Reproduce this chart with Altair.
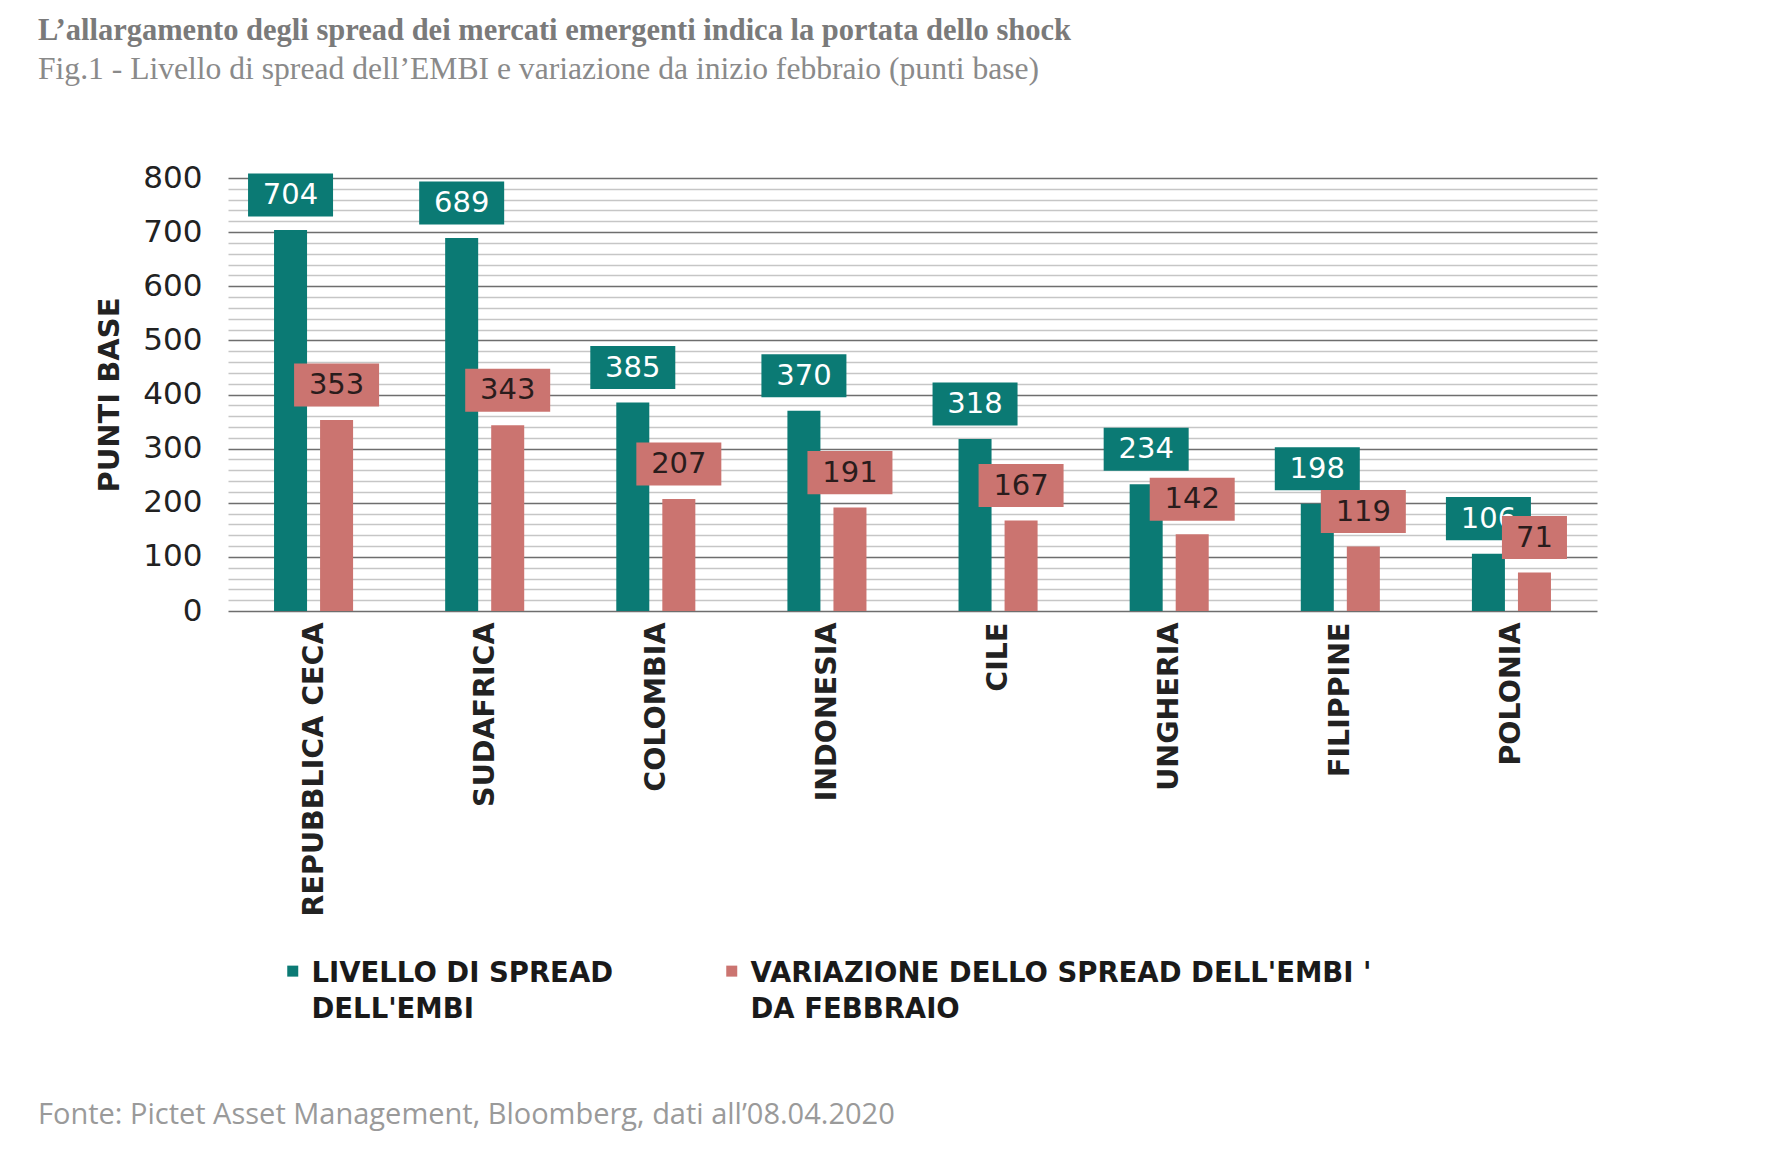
import altair as alt
import pandas as pd

countries = ["REPUBBLICA CECA", "SUDAFRICA", "COLOMBIA", "INDONESIA",
             "CILE", "UNGHERIA", "FILIPPINE", "POLONIA"]
livello = [704, 689, 385, 370, 318, 234, 198, 106]
variazione = [353, 343, 207, 191, 167, 142, 119, 71]
series = ["LIVELLO DI SPREAD|DELL'EMBI",
          "VARIAZIONE DELLO SPREAD DELL'EMBI  '|DA FEBBRAIO"]
colors = ["#0b7a74", "#cb7470"]
text_colors = ["#ffffff", "#2a1c1c"]
y_ticks = list(range(0, 801, 20))

title = "L’allargamento degli spread dei mercati emergenti indica la portata dello shock"
subtitle = "Fig.1 - Livello di spread dell’EMBI e variazione da inizio febbraio (punti base)"
footer = "Fonte: Pictet Asset Management, Bloomberg, dati all’08.04.2020"

rows = []
for i, c in enumerate(countries):
    rows.append({"country": c, "series": series[0], "value": livello[i]})
    rows.append({"country": c, "series": series[1], "value": variazione[i]})
df = pd.DataFrame(rows)

BOX_WIDE = "M-1,-0.506L1,-0.506L1,0.506L-1,0.506Z"
BOX_NARROW = "M-0.765,-0.506L0.765,-0.506L0.765,0.506L-0.765,0.506Z"
LEGEND_SQUARE = "M-1,1L1,1L1,3L-1,3Z"

X = alt.X("country:N", sort=countries,
          scale=alt.Scale(paddingInner=0, paddingOuter=0),
          axis=alt.Axis(title=None, labelAngle=-90, labelFont="DejaVu Sans",
                        labelFontWeight="bold", labelFontSize=28.5, labelColor="#222222",
                        labelPadding=11, ticks=False, domain=False, grid=False,
                        labelLimit=400))
XO = alt.XOffset("series:N", sort=series,
                 scale=alt.Scale(domain=series, paddingInner=0.283, paddingOuter=1.0))
Y = alt.Y("value:Q", scale=alt.Scale(domain=[0, 800], nice=False),
          axis=alt.Axis(values=y_ticks, title="PUNTI BASE", titleFont="DejaVu Sans",
                        titleFontWeight="bold", titleFontSize=29, titleColor="#222222",
                        titleX=-110, titleY=216.5, titleAngle=-90, titleAlign="center",
                        titleBaseline="alphabetic",
                        labelExpr="datum.value % 100 === 0 ? datum.label : ''",
                        labelFont="DejaVu Sans", labelFontSize=31, labelColor="#222222",
                        labelPadding=26, labelOverlap=False, ticks=False, domain=False,
                        grid=True, gridWidth=1.6,
                        gridColor={"condition": {"test": "datum.value % 100 === 0",
                                                 "value": "#6e6e6e"},
                                   "value": "#c6c6c6"}))
C = alt.Color("series:N", scale=alt.Scale(domain=series, range=colors),
              legend=alt.Legend(title=None, orient="none", direction="horizontal",
                                legendX=51, legendY=768, symbolType=LEGEND_SQUARE,
                                symbolSize=121, symbolStrokeWidth=0,
                                labelFont="DejaVu Sans", labelFontWeight="bold",
                                labelFontSize=27.5, labelColor="#1a1a1a", labelLimit=900,
                                labelOffset=5, columnPadding=104,
                                labelExpr="split(datum.label, '|')",
                                labelBaseline="top"))
C_nolegend = alt.Color("series:N", scale=alt.Scale(domain=series, range=colors), legend=None)

bars = alt.Chart(df).mark_bar().encode(x=X, xOffset=XO, y=Y, color=C)

layers = [bars]
for s, tc in zip(series, text_colors):
    base = alt.Chart(df).transform_filter(alt.datum.series == s)
    box = base.transform_calculate(
        box=f"datum.value >= 100 ? '{BOX_WIDE}' : '{BOX_NARROW}'"
    ).mark_point(filled=True, opacity=1, size=7225, yOffset=-35, strokeWidth=0).encode(
        x=X, xOffset=XO, y=Y, color=C_nolegend,
        shape=alt.Shape("box:N", scale=None))
    txt = base.mark_text(font="DejaVu Sans", fontSize=29, color=tc, dy=-35,
                         baseline="middle", align="center").encode(
        x=X, xOffset=XO, y=Y, text="value:Q")
    layers += [box, txt]

foot = alt.Chart(pd.DataFrame({"t": [footer]})).mark_text(
    font="Open Sans", fontSize=29, color="#9a9a9a", align="left", baseline="middle"
).encode(x=alt.value(-190), y=alt.value(937), text="t:N")
layers.append(foot)

chart = alt.layer(*layers).properties(
    width=1369, height=433,
    autosize=alt.AutoSizeParams(type="none"),
    padding={"left": 220, "top": 170, "right": 170, "bottom": 520},
    title=alt.TitleParams(text=title, subtitle=subtitle, anchor="start", frame="group",
                          dx=-190, offset=76, font="Liberation Serif", fontSize=30.5,
                          fontWeight="bold", color="#7a7a7a",
                          subtitleFont="Liberation Serif", subtitleFontSize=31.6,
                          subtitleColor="#8a8a8a", subtitlePadding=8)
).configure(style={"guide-label": {"lineHeight": 36}}).configure_view(stroke=None)

chart.save("out.html", embed_options={"renderer": "svg", "actions": False})
